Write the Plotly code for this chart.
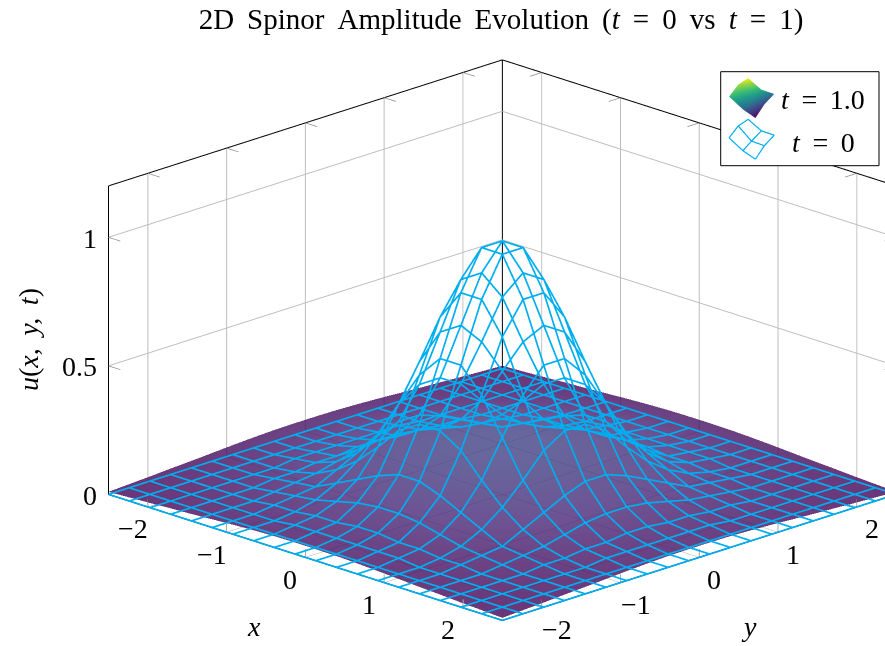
import plotly.graph_objects as go

FONT = "Liberation Serif"
BLUE = "#00AEEF"
GRID = "#bdbdbd"
TICK = "#8c8c8c"
W, H = 885, 646

axis_vals = [-2.5, -2.237, -1.974, -1.711, -1.447, -1.184, -0.921, -0.658, -0.395, -0.132,
             0.132, 0.395, 0.658, 0.921, 1.184, 1.447, 1.711, 1.974, 2.237, 2.5]
tick_vals = [-2, -1, 0, 1, 2]
tick_text = ["\u22122", "\u22121", "0", "1", "2"]
z_ticks = [0, 0.5, 1]
z_text = ["0", "0.5", "1"]
x_span = [-2.5, 2.5]
z_span = [0, 1.2]

wire_t0 = [
 [0]*20,
 [0]*20,
 [0,0,0,0,0,0,0,.01,.01,.01,.01,.01,.01,0,0,0,0,0,0,0],
 [0,0,0,0,0,.01,.01,.02,.02,.03,.03,.02,.02,.01,.01,0,0,0,0,0],
 [0,0,0,0,.01,.02,.03,.05,.07,.08,.08,.07,.05,.03,.02,.01,0,0,0,0],
 [0,0,0,.01,.02,.03,.07,.11,.15,.18,.18,.15,.11,.07,.03,.02,.01,0,0,0],
 [0,0,0,.01,.03,.07,.13,.21,.30,.35,.35,.30,.21,.13,.07,.03,.01,0,0,0],
 [0,0,.01,.02,.05,.11,.21,.35,.49,.58,.58,.49,.35,.21,.11,.05,.02,.01,0,0],
 [0,0,.01,.02,.07,.15,.30,.49,.69,.81,.81,.69,.49,.30,.15,.07,.02,.01,0,0],
 [0,0,.01,.03,.08,.18,.35,.58,.81,.96,.96,.81,.58,.35,.18,.08,.03,.01,0,0],
 [0,0,.01,.03,.08,.18,.35,.58,.81,.96,.96,.81,.58,.35,.18,.08,.03,.01,0,0],
 [0,0,.01,.02,.07,.15,.30,.49,.69,.81,.81,.69,.49,.30,.15,.07,.02,.01,0,0],
 [0,0,.01,.02,.05,.11,.21,.35,.49,.58,.58,.49,.35,.21,.11,.05,.02,.01,0,0],
 [0,0,0,.01,.03,.07,.13,.21,.30,.35,.35,.30,.21,.13,.07,.03,.01,0,0,0],
 [0,0,0,.01,.02,.03,.07,.11,.15,.18,.18,.15,.11,.07,.03,.02,.01,0,0,0],
 [0,0,0,0,.01,.02,.03,.05,.07,.08,.08,.07,.05,.03,.02,.01,0,0,0,0],
 [0,0,0,0,0,.01,.01,.02,.02,.03,.03,.02,.02,.01,.01,0,0,0,0,0],
 [0,0,0,0,0,0,0,.01,.01,.01,.01,.01,.01,0,0,0,0,0,0,0],
 [0]*20,
 [0]*20,
]

surf_t1 = [
 [.010,.014,.018,.023,.027,.032,.037,.041,.044,.045,.045,.044,.041,.037,.032,.027,.023,.018,.014,.010],
 [.014,.018,.024,.030,.037,.044,.050,.055,.059,.061,.061,.059,.055,.050,.044,.037,.030,.024,.018,.014],
 [.018,.024,.031,.039,.048,.057,.065,.071,.076,.079,.079,.076,.071,.065,.057,.048,.039,.031,.024,.018],
 [.023,.030,.039,.050,.060,.071,.081,.090,.096,.099,.099,.096,.090,.081,.071,.060,.050,.039,.030,.023],
 [.027,.037,.048,.060,.073,.087,.099,.109,.117,.121,.121,.117,.109,.099,.087,.073,.060,.048,.037,.027],
 [.032,.044,.057,.071,.087,.102,.117,.129,.138,.142,.142,.138,.129,.117,.102,.087,.071,.057,.044,.032],
 [.037,.050,.065,.081,.099,.117,.133,.147,.157,.162,.162,.157,.147,.133,.117,.099,.081,.065,.050,.037],
 [.041,.055,.071,.090,.109,.129,.147,.162,.174,.179,.179,.174,.162,.147,.129,.109,.090,.071,.055,.041],
 [.044,.059,.076,.096,.117,.138,.157,.174,.186,.192,.192,.186,.174,.157,.138,.117,.096,.076,.059,.044],
 [.045,.061,.079,.099,.121,.142,.162,.179,.192,.198,.198,.192,.179,.162,.142,.121,.099,.079,.061,.045],
 [.045,.061,.079,.099,.121,.142,.162,.179,.192,.198,.198,.192,.179,.162,.142,.121,.099,.079,.061,.045],
 [.044,.059,.076,.096,.117,.138,.157,.174,.186,.192,.192,.186,.174,.157,.138,.117,.096,.076,.059,.044],
 [.041,.055,.071,.090,.109,.129,.147,.162,.174,.179,.179,.174,.162,.147,.129,.109,.090,.071,.055,.041],
 [.037,.050,.065,.081,.099,.117,.133,.147,.157,.162,.162,.157,.147,.133,.117,.099,.081,.065,.050,.037],
 [.032,.044,.057,.071,.087,.102,.117,.129,.138,.142,.142,.138,.129,.117,.102,.087,.071,.057,.044,.032],
 [.027,.037,.048,.060,.073,.087,.099,.109,.117,.121,.121,.117,.109,.099,.087,.073,.060,.048,.037,.027],
 [.023,.030,.039,.050,.060,.071,.081,.090,.096,.099,.099,.096,.090,.081,.071,.060,.050,.039,.030,.023],
 [.018,.024,.031,.039,.048,.057,.065,.071,.076,.079,.079,.076,.071,.065,.057,.048,.039,.031,.024,.018],
 [.014,.018,.024,.030,.037,.044,.050,.055,.059,.061,.061,.059,.055,.050,.044,.037,.030,.024,.018,.014],
 [.010,.014,.018,.023,.027,.032,.037,.041,.044,.045,.045,.044,.041,.037,.032,.027,.023,.018,.014,.010],
]

# legend icons
icon_fill_x = [[143,183,222],[113,153,192],[85,127,165]]
icon_fill_y = [[265,230,217],[245,199,185],[209,170,144]]
icon_fill_c = [[1.0,.62,.36],[.85,.48,.2],[.68,.32,0.0]]
icon_wire_x = [[143,183,222],[113,153,192],[85,127,165]]
icon_wire_y = [[140,105,92],[120,74,60],[84,45,19]]

def px(v):
    return v / W
def py(v):
    return 1 - v / H

def seg_lines(segs):
    xs, ys, zs = [], [], []
    for (a, b) in segs:
        xs += [a[0], b[0], None]; ys += [a[1], b[1], None]; zs += [a[2], b[2], None]
    return xs, ys, zs

lo, hi = x_span
ztop = z_span[1]
box_segs = [((lo,lo,0),(lo,lo,ztop)), ((lo,hi,0),(lo,hi,ztop)), ((hi,hi,0),(hi,hi,ztop)),
            ((lo,lo,ztop),(lo,hi,ztop)), ((lo,hi,ztop),(hi,hi,ztop)),
            ((lo,lo,0),(hi,lo,0)), ((hi,lo,0),(hi,hi,0))]
tl = 0.15
tick_segs = []
for t in tick_vals:
    tick_segs.append(((lo,t,ztop),(lo+tl,t,ztop)))
    tick_segs.append(((t,hi,ztop),(t,hi-tl,ztop)))
    tick_segs.append(((t,lo,0),(t,lo,0.032)))
    tick_segs.append(((hi,t,0),(hi,t,0.032)))
for z in z_ticks[1:]:
    tick_segs.append(((lo,lo,z),(lo+tl,lo,z)))
    tick_segs.append(((hi,hi,z),(hi,hi-tl,z)))

fig = go.Figure()
fig.add_trace(go.Surface(x=axis_vals, y=axis_vals, z=surf_t1, colorscale="Viridis", cmin=0, cmax=1,
                         showscale=False, opacity=0.8, hoverinfo="skip",
                         lighting=dict(ambient=1, diffuse=0, specular=0, roughness=1, fresnel=0),
                         scene="scene"))
x, y, z = seg_lines(box_segs)
fig.add_trace(go.Scatter3d(x=x, y=y, z=z, mode="lines", line=dict(color="black", width=2),
                           hoverinfo="skip", showlegend=False, scene="scene"))
x, y, z = seg_lines(tick_segs)
fig.add_trace(go.Scatter3d(x=x, y=y, z=z, mode="lines", line=dict(color=TICK, width=1.5),
                           hoverinfo="skip", showlegend=False, scene="scene"))

wx, wy, wz = [], [], []
n = len(axis_vals)
for j in range(n):
    for i in range(n):
        wx.append(axis_vals[i]); wy.append(axis_vals[j]); wz.append(wire_t0[j][i])
    wx.append(None); wy.append(None); wz.append(None)
for i in range(n):
    for j in range(n):
        wx.append(axis_vals[i]); wy.append(axis_vals[j]); wz.append(wire_t0[j][i])
    wx.append(None); wy.append(None); wz.append(None)
fig.add_trace(go.Scatter3d(x=wx, y=wy, z=wz, mode="lines", line=dict(color=BLUE, width=3.4),
                           connectgaps=False, hoverinfo="skip", showlegend=False, scene="scene2"))

fig.add_trace(go.Surface(x=icon_fill_x, y=icon_fill_y, z=[[0,0,0]]*3, surfacecolor=icon_fill_c,
                         colorscale="Viridis", cmin=0, cmax=1, showscale=False, hoverinfo="skip",
                         lighting=dict(ambient=1, diffuse=0, specular=0, roughness=1, fresnel=0),
                         scene="scene3"))
ix, iy = [], []
for r in range(3):
    ix += icon_wire_x[r] + [None]; iy += icon_wire_y[r] + [None]
for c in range(3):
    ix += [icon_wire_x[r][c] for r in range(3)] + [None]
    iy += [icon_wire_y[r][c] for r in range(3)] + [None]
fig.add_trace(go.Scatter3d(x=ix, y=iy, z=[0 if v is not None else None for v in ix], mode="lines",
                           line=dict(color=BLUE, width=2.4), hoverinfo="skip", showlegend=False,
                           scene="scene3"))

def ax(**kw):
    d = dict(range=x_span, tickvals=tick_vals, showgrid=True, gridcolor=GRID, gridwidth=2,
             showbackground=False, showline=False, zeroline=False, ticks="", showticklabels=False,
             showspikes=False, title=dict(text=""))
    d.update(kw)
    return d

center = dict(x=-0.131, y=-0.131, z=0.056)
eye = dict(x=center["x"] + 1.25, y=center["y"] - 1.25, z=center["z"] + 0.597)
cam = dict(eye=eye, up=dict(x=0, y=0, z=1), center=center, projection=dict(type="orthographic"))
aspect = dict(x=1.7245, y=1.7245, z=1.008)
hidden = dict(visible=False)
tf = dict(family=FONT, size=28, color="black")
tfl = dict(family=FONT, size=28, color="black")

labels = []
for t, s in zip(tick_vals, tick_text):
    labels.append(dict(x=t, y=lo, z=0, text=s, showarrow=False, font=tf, xshift=-15, yshift=-22))
    labels.append(dict(x=hi, y=t, z=0, text=s, showarrow=False, font=tf, xshift=15, yshift=-22))
for v, s in zip(z_ticks, z_text):
    labels.append(dict(x=lo, y=lo, z=v, text=s, showarrow=False, font=tf, xanchor="right", xshift=-9, yshift=-1))

def note(text, x_px, y_px, font, **kw):
    return dict(text=text, x=px(x_px), y=py(y_px), xref="paper", yref="paper", showarrow=False,
                xanchor="center", yanchor="middle", font=font, **kw)

T = "\u2009\u00a0"
fig.update_layout(
    width=W, height=H, margin=dict(l=0, r=0, t=0, b=0), paper_bgcolor="white",
    showlegend=False, hovermode=False,
    scene=dict(domain=dict(x=[0, 1], y=[0, 1]), camera=cam, aspectmode="manual", aspectratio=aspect,
               bgcolor="white", annotations=labels,
               xaxis=ax(), yaxis=ax(),
               zaxis=ax(range=z_span, tickvals=z_ticks)),
    scene2=dict(domain=dict(x=[0, 1], y=[0, 1]), camera=cam, aspectmode="manual", aspectratio=aspect,
                bgcolor="rgba(0,0,0,0)",
                xaxis=dict(range=x_span, **hidden), yaxis=dict(range=x_span, **hidden),
                zaxis=dict(range=z_span, **hidden)),
    scene3=dict(domain=dict(x=[px(720.7), px(879)], y=[py(165.7), py(71.7)]),
                camera=dict(eye=dict(x=0, y=0, z=1), up=dict(x=0, y=1, z=0),
                            center=dict(x=0, y=0, z=0), projection=dict(type="orthographic")),
                aspectmode="manual", aspectratio=dict(x=3.343, y=1.98, z=0.2),
                bgcolor="white",
                xaxis=dict(range=[62, 538], **hidden), yaxis=dict(range=[0, 282], **hidden),
                zaxis=dict(range=[-1, 1], **hidden)),
    title=dict(text=f"2D{T}Spinor{T}Amplitude{T}Evolution{T}(<i>t</i>{T}={T}0{T}vs{T}<i>t</i>{T}={T}1)",
               x=px(501), xanchor="center", y=py(19), yanchor="middle",
               font=dict(family=FONT, size=29, color="black")),
    shapes=[dict(type="rect", xref="paper", yref="paper", x0=px(720.7), x1=px(879),
                 y0=py(165.7), y1=py(71.7), line=dict(color="black", width=1), fillcolor="rgba(0,0,0,0)")],
    annotations=[
        note(f"<i>t</i>{T}={T}1.0", 823, 99, tfl),
        note(f"<i>t</i>{T}={T}0", 823, 142, tfl),
        note("<i>x</i>", 254, 626, tfl),
        note("<i>y</i>", 749, 626, tfl),
        note(f"<i>u</i>(<i>x,{T}y,{T}t</i>)", 28, 340, tfl, textangle=-90),
    ],
)
fig.write_html("out.html", config=dict(displayModeBar=False),
               post_script="document.body.style.margin='0';")
